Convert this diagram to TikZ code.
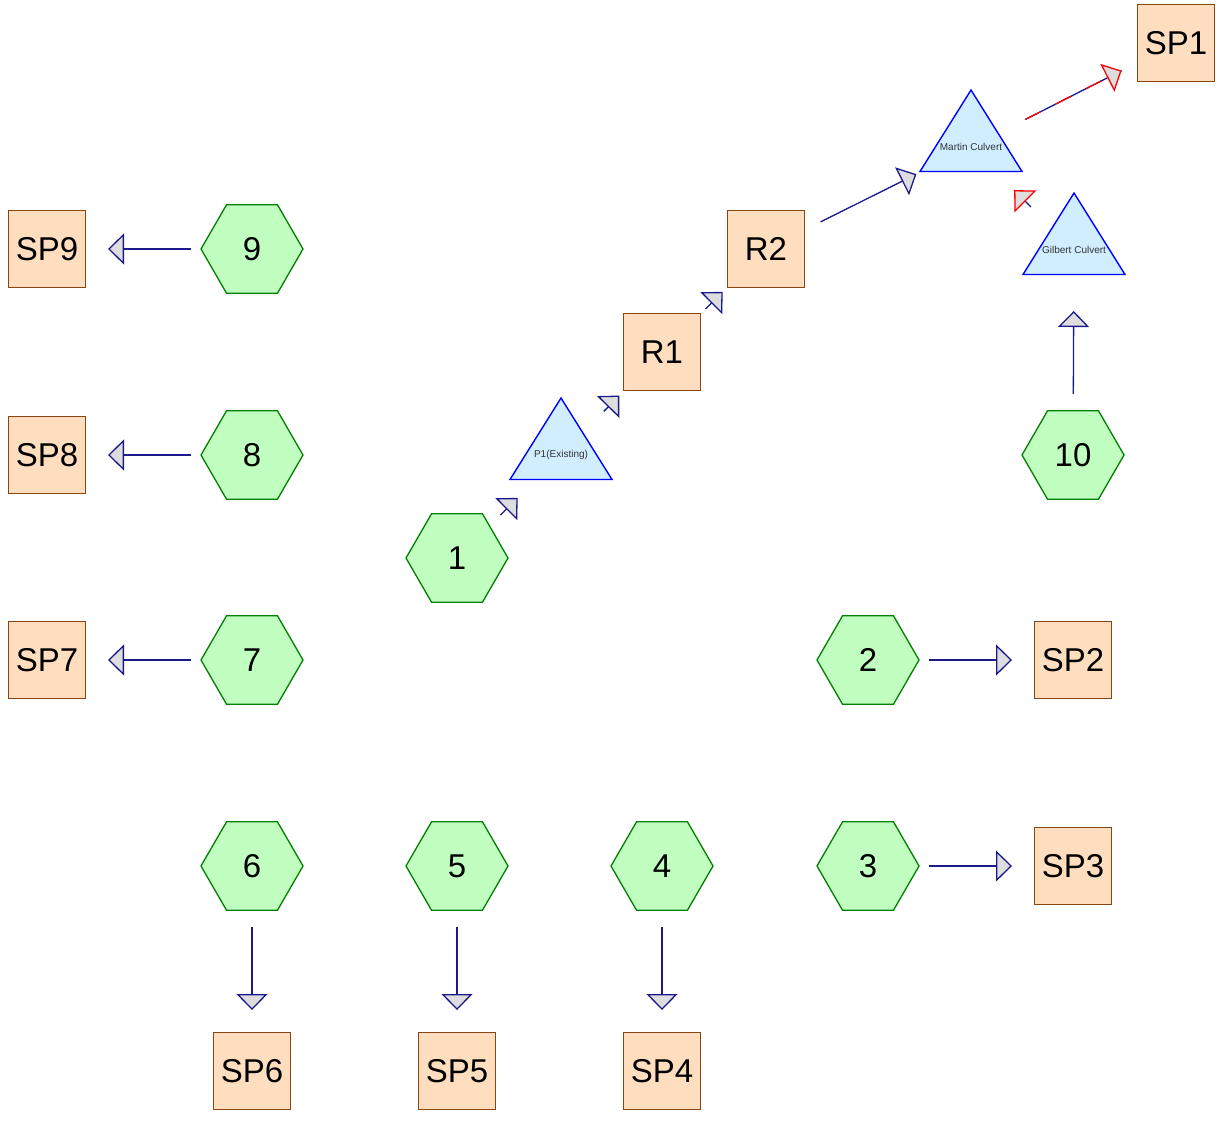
\documentclass[tikz,border=0pt]{standalone}
\usepackage{fontspec}
\setmainfont{Liberation Sans}
\usetikzlibrary{shapes.geometric,arrows.meta}
\definecolor{edgeblue}{RGB}{26,26,140}
\definecolor{hexfill}{RGB}{192,255,192}
\definecolor{hexdraw}{RGB}{0,128,0}
\definecolor{sqfill}{RGB}{255,222,192}
\definecolor{sqdraw}{RGB}{139,69,19}
\definecolor{trifill}{RGB}{208,238,255}
\definecolor{tridraw}{RGB}{0,0,255}
\definecolor{tritext}{RGB}{51,51,51}
\definecolor{arrowgray}{RGB}{221,221,221}
\definecolor{redline}{RGB}{255,0,0}
\begin{document}
\begin{tikzpicture}[x=1pt,y=-1pt,
  hexnode/.style={regular polygon, regular polygon sides=6, minimum size=102pt,
    inner sep=0pt, outer sep=0pt, draw=hexdraw, fill=hexfill, line width=1.3pt,
    font=\fontsize{33}{34}\selectfont},
  sqnode/.style={rectangle, minimum size=77pt, inner sep=0pt, outer sep=0pt,
    draw=sqdraw, fill=sqfill, line width=1.4pt, font=\fontsize{33}{34}\selectfont},
  trishape/.style={isosceles triangle, shape border rotate=90, isosceles triangle stretches,
    minimum width=102pt, minimum height=81.5pt, inner sep=0pt, outer sep=0pt,
    draw=tridraw, fill=trifill, line width=1.4pt, anchor=apex},
  trilabel/.style={inner sep=0pt, font=\fontsize{10}{11}\selectfont, text=tritext},
  edgeline/.style={draw=edgeblue, line width=1.3pt, shorten <=61pt, shorten >=61pt},
  edge/.style={edgeline, -{Triangle[length=16pt,width=31pt,fill=arrowgray]}},
  rededge/.style={draw=redline, line width=1.3pt, shorten <=61pt, shorten >=61pt,
    -{Triangle[length=16pt,width=31pt,fill=arrowgray]}},
]
\useasboundingbox (0,0) rectangle (1225,1120);
\fill[white] (0,0) rectangle (1225,1120);

% triangles
\node[trishape] (mcshape) at (971,90) {};
\node[trilabel] (mc) at (971,147) {Martin Culvert};
\node[trishape] (gcshape) at (1074,193) {};
\node[trilabel] (gc) at (1074,250) {Gilbert Culvert};
\node[trishape] (p1shape) at (561,398) {};
\node[trilabel] (p1) at (561,455) {P1(Existing)};

% squares
\node[sqnode] (sp1) at (1176,43) {SP1};
\node[sqnode] (sp2) at (1073,660) {SP2};
\node[sqnode] (sp3) at (1073,866) {SP3};
\node[sqnode] (sp4) at (662,1071) {SP4};
\node[sqnode] (sp5) at (457,1071) {SP5};
\node[sqnode] (sp6) at (252,1071) {SP6};
\node[sqnode] (sp7) at (47,660) {SP7};
\node[sqnode] (sp8) at (47,455) {SP8};
\node[sqnode] (sp9) at (47,249) {SP9};
\node[sqnode] (r1) at (662,352) {R1};
\node[sqnode] (r2) at (766,249) {R2};

% hexagons
\node[hexnode] (h1) at (457,558) {1};
\node[hexnode] (h2) at (868,660) {2};
\node[hexnode] (h3) at (868,866) {3};
\node[hexnode] (h4) at (662,866) {4};
\node[hexnode] (h5) at (457,866) {5};
\node[hexnode] (h6) at (252,866) {6};
\node[hexnode] (h7) at (252,660) {7};
\node[hexnode] (h8) at (252,455) {8};
\node[hexnode] (h9) at (252,249) {9};
\node[hexnode] (h10) at (1073,455) {10};

% connectors
\draw[edge] (h9.center) -- (sp9.center);
\draw[edge] (h8.center) -- (sp8.center);
\draw[edge] (h7.center) -- (sp7.center);
\draw[edge] (h2.center) -- (sp2.center);
\draw[edge] (h3.center) -- (sp3.center);
\draw[edge] (h6.center) -- (sp6.center);
\draw[edge] (h5.center) -- (sp5.center);
\draw[edge] (h4.center) -- (sp4.center);
\draw[edge] (h10.center) -- (gc.center);
\draw[edge] (h1.center) -- (p1.center);
\draw[edge] (p1.center) -- (r1.center);
\draw[edge] (r1.center) -- (r2.center);
\draw[edge] (r2.center) -- (mc.center);
\draw[edgeline] (mc.center) -- (sp1.center);
\draw[rededge, dash pattern=on 17pt off 17pt] (mc.center) -- (sp1.center);
\draw[edgeline] (gc.center) -- (mc.center);
\draw[rededge, dash pattern=on 0pt off 40pt] (gc.center) -- (mc.center);
\end{tikzpicture}
\end{document}
